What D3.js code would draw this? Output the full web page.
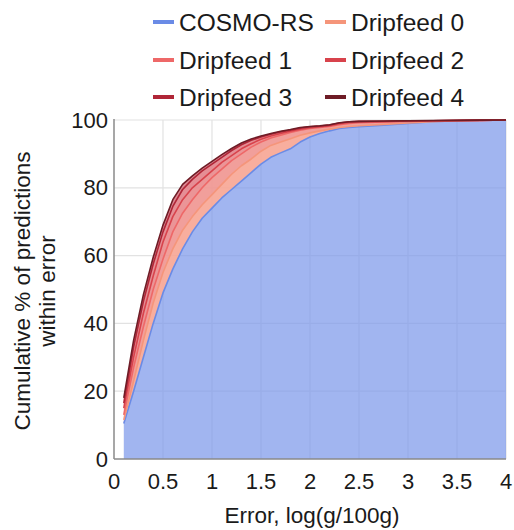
<!DOCTYPE html>
<html>
<head>
<meta charset="utf-8">
<script src="https://cdn.jsdelivr.net/npm/d3@7"></script>
<style>
  body { margin: 0; background: #fff; }
  svg text { font-family: "Liberation Sans", Arial, sans-serif; fill: #1a1a1a; }
</style>
</head>
<body>
<svg id="chart" width="514" height="530"></svg>
<script>
// error values (x) and cumulative % for each series
const errs = [0.1,0.2,0.3,0.4,0.5,0.6,0.7,0.8,0.9,1.0,1.1,1.2,1.3,1.4,1.5,1.6,1.7,1.8,1.9,2.0,2.1,2.2,2.3,2.4,2.5,2.75,3.0,3.25,3.5,3.75,4.0];
const cosmo = [10.5,20,30,40,49,56,62,67,71,74,77,79.5,82,84.5,87,89,90.3,91.5,93.5,95,96,96.8,97.5,97.8,98,98.5,99,99.5,99.8,99.9,100];
const drip0 = [11.5,23,35,46,55,62,67.5,71.5,75,78,81,84,86.5,88.5,90.8,92.5,93.5,94.5,95.5,96.2,96.8,97.3,97.8,98.1,98.3,98.7,99.1,99.5,99.8,99.9,100];
const drip1 = [13,27,39,50,59,67,72.5,76.5,80,83,85.5,88,90,92,93.5,94.7,95.5,96.3,97,97.5,97.8,98.1,98.6,99,99.2,99.4,99.6,99.7,99.8,99.9,100];
const drip2 = [15,30,43,54,64,71.5,76.5,80,82.5,85,87.5,89.5,91.5,93,94.3,95.3,96,96.7,97.3,97.7,98,98.3,98.9,99.3,99.4,99.5,99.7,99.8,99.85,99.9,100];
const drip3 = [16.5,33,46.5,57.5,67,74.5,79.5,82.5,85,87,89,91,92.7,94,95,95.8,96.5,97,97.6,98,98.2,98.5,99.1,99.5,99.6,99.65,99.75,99.8,99.9,99.95,100];
const drip4 = [18,35,48.5,59.5,69,76.5,81,83.5,85.8,87.8,89.8,91.6,93.2,94.4,95.3,96,96.7,97.2,97.8,98.1,98.3,98.6,99.2,99.5,99.6,99.7,99.8,99.85,99.9,99.95,100];

const seriesNames = ["COSMO-RS","Dripfeed 0","Dripfeed 1","Dripfeed 2","Dripfeed 3","Dripfeed 4"];
const seriesVals = [cosmo, drip0, drip1, drip2, drip3, drip4];
const lineColors = ["#6a8be6","#f5957a","#ee6868","#d8434c","#b02637","#6e1c26"];
const bandColors = ["#7d98ea","#f7a594","#f09590","#e9898c","#e2828a","#d87a86"];

const xTicks = [0,0.5,1,1.5,2,2.5,3,3.5,4];
const yTicks = [0,20,40,60,80,100];

const svg = d3.select("#chart");
const x = d3.scaleLinear().domain([0,4]).range([114,506]);
const y = d3.scaleLinear().domain([0,100]).range([459,120]);

// gridlines
svg.append("g").selectAll("line").data(xTicks.slice(1))
  .enter().append("line")
  .attr("x1",d=>x(d)).attr("x2",d=>x(d))
  .attr("y1",y(0)).attr("y2",y(100))
  .attr("stroke","#e2e2e2").attr("stroke-width",1.2);
svg.append("g").selectAll("line").data(yTicks.slice(1))
  .enter().append("line")
  .attr("x1",x(0)).attr("x2",x(4))
  .attr("y1",d=>y(d)).attr("y2",d=>y(d))
  .attr("stroke","#e2e2e2").attr("stroke-width",1.2);

// bands: each series filled down to the one below it
const pts = seriesVals.map(vals => errs.map((e,i)=>({x:e,y:vals[i]})));
seriesVals.forEach((vals,k)=>{
  const lower = k===0 ? null : seriesVals[k-1];
  const area = d3.area()
    .x((d,i)=>x(errs[i]))
    .y0((d,i)=> lower ? y(Math.min(lower[i],d)) : y(0))
    .y1(d=>y(d));
  svg.append("path").datum(vals)
    .attr("d",area)
    .attr("fill",bandColors[k])
    .attr("fill-opacity", k===0 ? 0.72 : 0.9);
});

// lines
const line = d3.line().x(d=>x(d.x)).y(d=>y(d.y));
pts.forEach((p,k)=>{
  svg.append("path").datum(p)
    .attr("d",line)
    .attr("fill","none")
    .attr("stroke",lineColors[k])
    .attr("stroke-width",1.6)
    .attr("stroke-linejoin","round");
});

// axis lines
svg.append("line").attr("x1",x(0)).attr("x2",x(0)).attr("y1",y(100)-1).attr("y2",y(0))
  .attr("stroke","#8a8a8a").attr("stroke-width",1.5);
svg.append("line").attr("x1",x(0)).attr("x2",x(4)).attr("y1",y(0)).attr("y2",y(0))
  .attr("stroke","#8a8a8a").attr("stroke-width",1.5);

// tick labels
svg.append("g").selectAll("text").data(xTicks)
  .enter().append("text")
  .attr("x",d=>x(d)).attr("y",489)
  .attr("text-anchor","middle")
  .style("font-size","22px")
  .text(d=>d);
svg.append("g").selectAll("text").data(yTicks)
  .enter().append("text")
  .attr("x",108).attr("y",d=>y(d)+7.5)
  .attr("text-anchor","end")
  .style("font-size","22px")
  .text(d=>d);

// axis titles
svg.append("text").attr("x",312).attr("y",523)
  .attr("text-anchor","middle").style("font-size","22.5px")
  .text("Error, log(g/100g)");
const yt = svg.append("text")
  .attr("transform","translate(0,291) rotate(-90)")
  .attr("text-anchor","middle").style("font-size","22.5px");
yt.append("tspan").attr("x",0).attr("y",30).text("Cumulative % of predictions");
yt.append("tspan").attr("x",0).attr("y",55).text("within error");

// legend
const legX = [153,325];
const legY = [22,60,97];
seriesNames.forEach((n,k)=>{
  const gx = legX[k%2], gy = legY[Math.floor(k/2)];
  svg.append("line").attr("x1",gx).attr("x2",gx+21).attr("y1",gy).attr("y2",gy)
    .attr("stroke",lineColors[k]).attr("stroke-width",4);
  svg.append("text").attr("x",gx+26).attr("y",gy+9)
    .style("font-size","24.5px").text(n);
});
</script>
</body>
</html>
